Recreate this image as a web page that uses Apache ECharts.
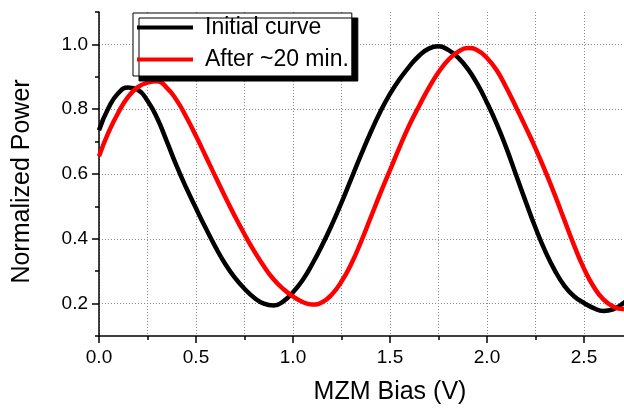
<!DOCTYPE html>
<html>
<head>
<meta charset="utf-8">
<script src="https://cdn.jsdelivr.net/npm/echarts@6/dist/echarts.min.js"></script>
<style>html,body{margin:0;padding:0;background:#fff;}#c{width:624px;height:412px;}</style>
</head>
<body>
<div id="c"></div>
<script>
// Bias voltage samples (V), shared by both curves
const bias = [0.00,0.05,0.10,0.15,0.20,0.25,0.30,0.35,0.40,0.45,0.50,0.55,0.60,0.65,0.70,0.75,0.80,0.85,0.90,0.95,
              1.00,1.05,1.10,1.15,1.20,1.25,1.30,1.35,1.40,1.45,1.50,1.55,1.60,1.65,1.70,1.75,1.80,1.85,1.90,1.95,
              2.00,2.05,2.10,2.15,2.20,2.25,2.30,2.35,2.40,2.45,2.50,2.55,2.60,2.65,2.70,2.75];
const powerInitial = [0.735,0.805,0.850,0.867,0.860,0.826,0.772,0.700,0.625,0.557,0.494,0.433,0.375,0.323,0.280,0.246,0.218,0.200,0.194,0.207,
                      0.235,0.273,0.323,0.380,0.443,0.512,0.585,0.658,0.728,0.792,0.847,0.893,0.932,0.965,0.987,0.994,0.983,0.960,0.925,0.878,
                      0.820,0.755,0.680,0.597,0.514,0.434,0.362,0.302,0.254,0.222,0.202,0.186,0.177,0.182,0.200,0.230];
const powerAfter = [0.655,0.730,0.790,0.838,0.868,0.882,0.886,0.866,0.828,0.776,0.717,0.655,0.592,0.530,0.470,0.414,0.362,0.315,0.275,0.245,
                    0.222,0.205,0.197,0.204,0.228,0.268,0.322,0.390,0.465,0.540,0.612,0.684,0.751,0.810,0.866,0.914,0.952,0.977,0.989,0.982,
                    0.958,0.920,0.866,0.806,0.744,0.679,0.609,0.535,0.456,0.378,0.308,0.252,0.213,0.191,0.183,0.190];
const seriesNames = ['Initial curve', 'After ~20 min.'];
const yMajorTicks = [0.2, 0.4, 0.6, 0.8, 1.0];

const FONT = 'Liberation Sans, Arial, Helvetica, sans-serif';
const pairs = (xs, ys) => xs.map((x, i) => [x, ys[i]]);
const dotted = { color: '#8a8a8a', width: 1, type: [1, 2] };

const chart = echarts.init(document.getElementById('c'), null, { renderer: 'canvas' });
chart.setOption({
  animation: false,
  backgroundColor: '#fff',
  textStyle: { fontFamily: FONT },
  grid: { left: 99, top: 12, right: -57, bottom: 76, containLabel: false, outerBoundsMode: 'none' },
  legend: {
    orient: 'vertical', left: 133, top: 13,
    padding: [3, 3, 5, 4], itemGap: 9, itemWidth: 56, itemHeight: 20,
    icon: 'path://M0,0 L56,0 L56,4 L0,4 Z',
    backgroundColor: '#fff', borderColor: '#000', borderWidth: 1,
    shadowColor: '#000', shadowBlur: 0, shadowOffsetX: 6, shadowOffsetY: 5,
    textStyle: { fontFamily: FONT, fontSize: 23, color: '#000', lineHeight: 20, padding: [0, 0, 0, 7] },
    data: seriesNames
  },
  xAxis: {
    type: 'value', min: 0, max: 3, interval: 0.5,
    name: 'MZM Bias (V)', nameLocation: 'middle', nameGap: 44,
    nameTextStyle: { fontFamily: FONT, fontSize: 25, color: '#000' },
    axisLine: { show: true, onZero: false, lineStyle: { color: '#000', width: 1.5 } },
    axisTick: { show: true, length: 7, lineStyle: { color: '#000', width: 1.5 } },
    minorTick: { show: true, splitNumber: 2, length: 4, lineStyle: { color: '#000', width: 1.5 } },
    axisLabel: { fontFamily: FONT, fontSize: 19, color: '#000', margin: 12, formatter: v => v.toFixed(1) },
    splitLine: { show: true, lineStyle: dotted },
    minorSplitLine: { show: true, lineStyle: dotted }
  },
  yAxis: [{
    type: 'value', min: 0.1, max: 1.1, interval: 0.1,
    name: 'Normalized Power', nameLocation: 'middle', nameGap: 64,
    nameTextStyle: { fontFamily: FONT, fontSize: 25, color: '#000', padding: [0, 15, 0, 0] },
    axisLine: { show: true, onZero: false, lineStyle: { color: '#000', width: 1.5 } },
    axisTick: { show: true, length: 4, lineStyle: { color: '#000', width: 1.5 } },
    axisLabel: { fontFamily: FONT, fontSize: 19, color: '#000', margin: 11,
      formatter: v => (Math.round(v * 10) % 2 === 0 ? v.toFixed(1) : '') },
    splitLine: { show: true, lineStyle: { color: ['rgba(0,0,0,0)', '#8a8a8a'], width: 1, type: [1, 2] } }
  }, {
    type: 'value', min: 0.1, max: 1.1, interval: 0.1, position: 'left',
    axisLine: { show: false },
    axisTick: { show: true, length: 7, customValues: yMajorTicks, lineStyle: { color: '#000', width: 1.5 } },
    axisLabel: { show: false },
    splitLine: { show: false }
  }],
  series: [{
    name: seriesNames[0], type: 'line', smooth: true, symbol: 'none', yAxisIndex: 0,
    lineStyle: { color: '#000', width: 4.5 }, itemStyle: { color: '#000' },
    data: pairs(bias, powerInitial)
  }, {
    name: seriesNames[1], type: 'line', smooth: true, symbol: 'none', yAxisIndex: 0,
    lineStyle: { color: '#ff0000', width: 4.5 }, itemStyle: { color: '#ff0000' },
    data: pairs(bias, powerAfter)
  }]
});
</script>
</body>
</html>
